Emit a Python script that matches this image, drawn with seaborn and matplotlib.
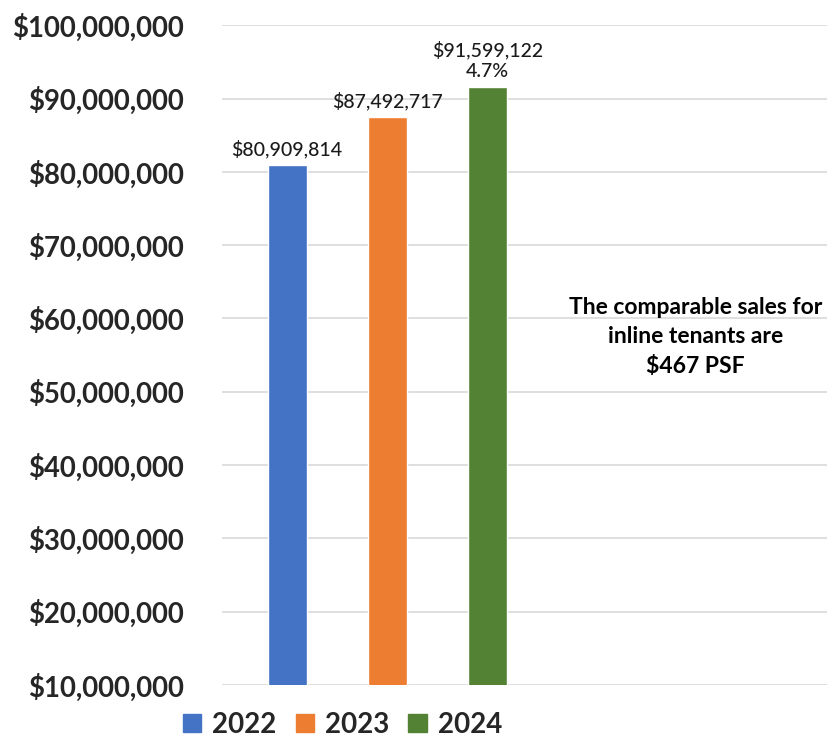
import seaborn as sns
import pandas as pd
import matplotlib.pyplot as plt
from matplotlib.ticker import FuncFormatter
from matplotlib.patches import Patch

years = ["2022", "2023", "2024"]
sales = [80909814, 87492717, 91599122]
growth_2024 = "4.7%"
colors = ["#4472C4", "#ED7D31", "#548235"]
note = "The comparable sales for\ninline tenants are\n$467 PSF"

df = pd.DataFrame({"year": years, "sales": sales})

sns.set_theme(style="white")
plt.rcParams["font.family"] = ["Lato", "DejaVu Sans"]

fig = plt.figure(figsize=(8.27, 7.42), dpi=100)
ax = fig.add_axes([0.268, 0.077, 0.732, 0.889])

sns.barplot(data=df, x="year", y="sales", hue="year", palette=colors,
            width=0.39, dodge=False, legend=False, ax=ax, saturation=1)

ax.set_ylim(10_000_000, 100_000_000)
ax.set_xlim(-0.653, 5.38)
ax.set_yticks(range(10_000_000, 100_000_001, 10_000_000))
ax.yaxis.set_major_formatter(FuncFormatter(lambda v, p: f"${v:,.0f}"))
ax.grid(axis="y", color="#d9d9d9", linewidth=1.2)
ax.set_axisbelow(True)
for s in ax.spines.values():
    s.set_visible(False)
ax.set_xticks([])
ax.set_xlabel("")
ax.set_ylabel("")
ax.tick_params(axis="y", length=0, pad=27, labelsize=19.8)
for t in ax.get_yticklabels():
    t.set_fontweight("bold")

# value labels above the bars, growth on the last one
for i, v in enumerate(sales):
    label = f"${v:,.0f}"
    if i == len(sales) - 1:
        label += "\n" + growth_2024
    ax.annotate(label, (i, v), xytext=(0, 5), textcoords="offset points",
                ha="center", va="bottom", fontsize=14, fontweight="medium",
                color="#1a1a1a", linespacing=1.25)

ax.text(4.07, 57_500_000, note, ha="center", va="center", fontsize=16.5,
        fontweight="bold", color="black", linespacing=1.5)

handles = [Patch(color=c, label=y) for y, c in zip(years, colors)]
fig.legend(handles=handles, loc="lower center", bbox_to_anchor=(0.414, -0.028),
           ncol=3, frameon=False, handlelength=0.65,
           handleheight=0.65, handletextpad=0.4, columnspacing=0.7,
           prop={"weight": "bold", "size": 20})

fig.savefig("out.png", dpi=100)
